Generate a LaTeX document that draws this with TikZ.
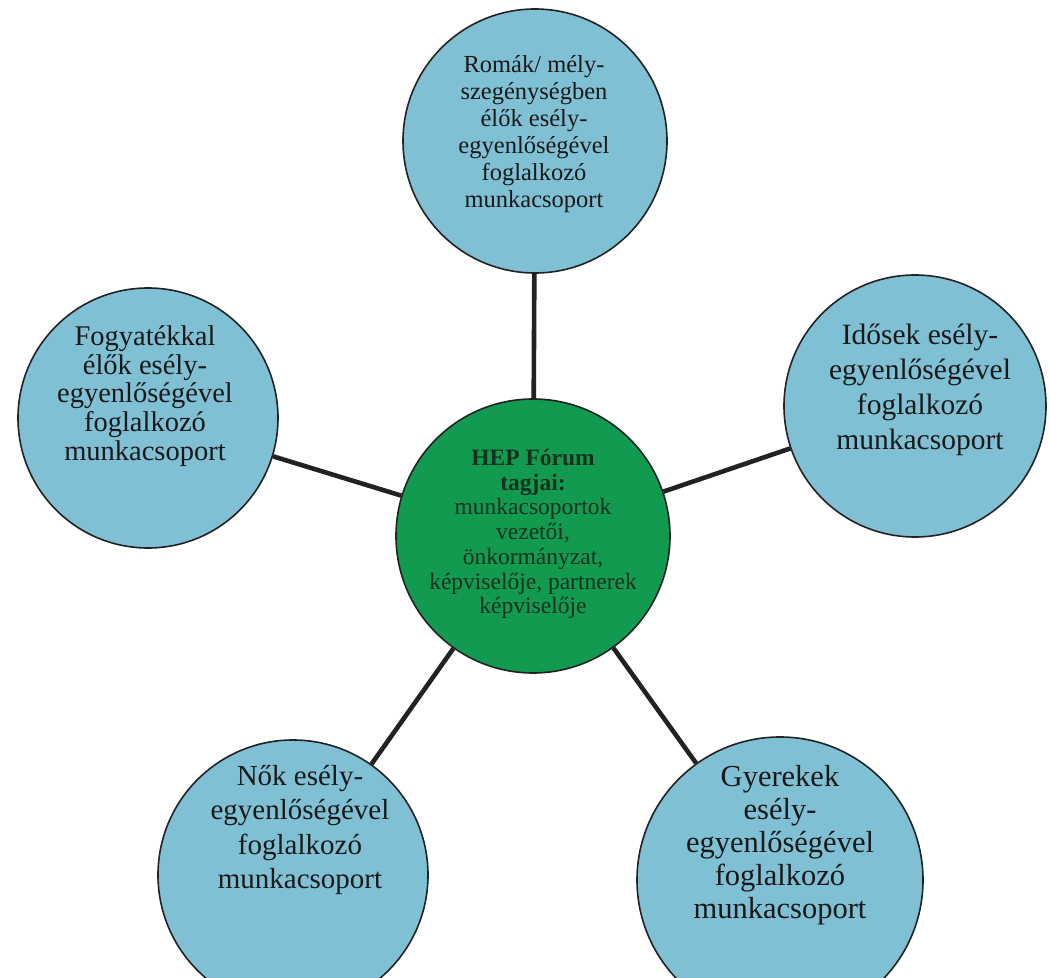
\documentclass[tikz,border=0pt]{standalone}
\usepackage{fontspec}
\setmainfont{Liberation Serif}
\usetikzlibrary{positioning,backgrounds}

\definecolor{groupblue}{RGB}{128,192,212}
\definecolor{forumgreen}{RGB}{17,154,80}
\definecolor{forumtext}{RGB}{22,48,30}
\definecolor{linkgray}{RGB}{34,34,34}

\tikzset{
  group/.style={circle, draw=linkgray, line width=0.8pt, fill=groupblue, minimum size=#1},
  forum/.style={circle, draw=linkgray, line width=0.8pt, fill=forumgreen, minimum size=#1},
  grouptext/.style={align=center, text=black!90, inner sep=0pt},
  link/.style={draw=linkgray, line width=2.3pt}
}

\begin{document}
\begin{tikzpicture}[x=0.5pt, y=-0.5pt]

\useasboundingbox (0,0) rectangle (1050,978);
\clip (0,0) rectangle (1050,978);

% Draw the circles
\node [forum=137pt] at (533,536) (hep) {};
\node [group=132pt] at (535,141) (romak) {};
\node [group=130pt] at (148,418) (fogyatekkal) {};
\node [group=131pt] at (915,406) (idosek) {};
\node [group=135pt] at (293,875) (nok) {};
\node [group=143pt] at (780,880) (gyerekek) {};

% Draw the links from the forum to each group
\begin{scope}[on background layer]
\foreach \grp in {romak,fogyatekkal,idosek,nok,gyerekek}
  \draw [link] (hep) -- (\grp);
\end{scope}

% Texts
\node [grouptext, text=forumtext, font=\fontsize{11.75}{12.35}\selectfont] at (533,534) (hep-t)
  {\textbf{HEP Fórum}\\\textbf{tagjai:}\\munkacsoportok\\vezetői,\\önkormányzat,\\képviselője, partnerek\\képviselője};
\node [grouptext, font=\fontsize{12.25}{13.5}\selectfont] at (534,134) (romak-t)
  {Romák/ mély-\\szegénységben\\élők esély-\\egyenlőségével\\foglalkozó\\munkacsoport};
\node [grouptext, font=\fontsize{14.25}{14.35}\selectfont] at (145,396) (fogyatekkal-t)
  {Fogyatékkal\\élők esély-\\egyenlőségével\\foglalkozó\\munkacsoport};
\node [grouptext, font=\fontsize{14.75}{17.5}\selectfont] at (920,390) (idosek-t)
  {Idősek esély-\\egyenlőségével\\foglalkozó\\munkacsoport};
\node [grouptext, font=\fontsize{14.5}{17.25}\selectfont] at (300,830) (nok-t)
  {Nők esély-\\egyenlőségével\\foglalkozó\\munkacsoport};
\node [grouptext, font=\fontsize{15.25}{16.5}\selectfont] at (780,845) (gyerekek-t)
  {Gyerekek\\esély-\\egyenlőségével\\foglalkozó\\munkacsoport};

\end{tikzpicture}
\end{document}
